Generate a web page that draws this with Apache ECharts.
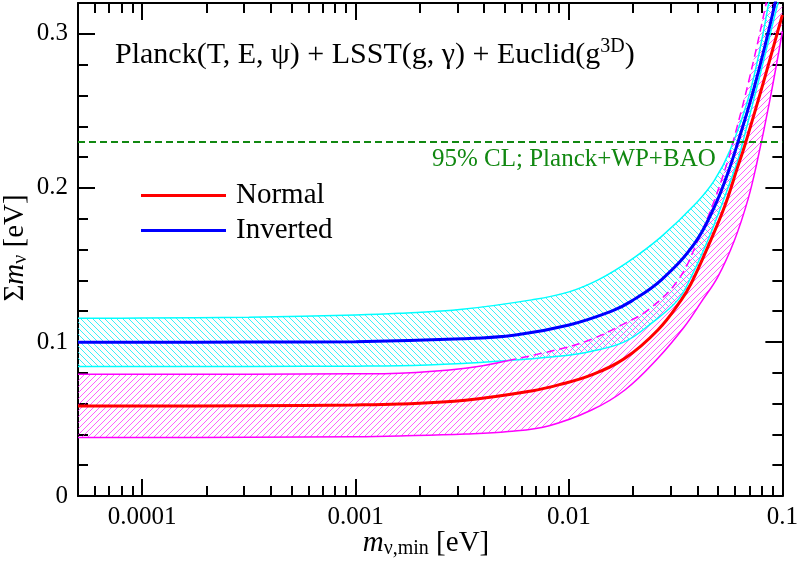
<!DOCTYPE html>
<html>
<head>
<meta charset="utf-8">
<script src="https://cdn.jsdelivr.net/npm/echarts@6/dist/echarts.min.js"></script>
<style>
    html, body { margin: 0; padding: 0; background: #fff; }
    #chart { width: 801px; height: 565px; }
</style>
</head>
<body>
<div id="chart"></div>
<script>
// x: m_nu,min [eV], y: sum m_nu [eV]
var xTickValues = [0.0001, 0.001, 0.01, 0.1];
var xTickLabels = ['0.0001', '0.001', '0.01', '0.1'];
var yTickValues = [0, 0.1, 0.2, 0.3];
var yTickLabels = ['0', '0.1', '0.2', '0.3'];
var planckLimit = 0.23;

// Inverted hierarchy (blue) and its band (cyan)
var inverted = [[0.00005, 0.0998], [0.0001, 0.0998], [0.000316, 0.0999], [0.001, 0.1002], [0.00316, 0.1020], [0.00562, 0.1045], [0.01, 0.1110], [0.01585, 0.1200], [0.01963, 0.1265], [0.0271, 0.1403], [0.0388, 0.1640], [0.0481, 0.1879], [0.0555, 0.2095], [0.0617, 0.2290], [0.0741, 0.2660], [0.0923, 0.3195], [0.1, 0.3450]];
var invertedUpper = [[0.00005, 0.1154], [0.0001, 0.1155], [0.000316, 0.1160], [0.001, 0.1175], [0.0016, 0.1186], [0.00316, 0.1212], [0.00668, 0.1273], [0.01, 0.1325], [0.0137, 0.1403], [0.01892, 0.1520], [0.0271, 0.1684], [0.0394, 0.1900], [0.0481, 0.2050], [0.0569, 0.2245], [0.0708, 0.2630], [0.0861, 0.3195], [0.1, 0.3800]];
var invertedLower = [[0.00005, 0.0840], [0.000316, 0.0841], [0.001, 0.0843], [0.0016, 0.0845], [0.00316, 0.0860], [0.0052, 0.0880], [0.00893, 0.0907], [0.01276, 0.0940], [0.01828, 0.1002], [0.0243, 0.1121], [0.0324, 0.1273], [0.0374, 0.1424], [0.0448, 0.1662], [0.0516, 0.1879], [0.0597, 0.2117], [0.0637, 0.2240], [0.0951, 0.3195], [0.1, 0.3350]];

// Normal hierarchy (red) and its band (magenta)
var normal = [[0.00005, 0.0584], [0.0001, 0.0584], [0.000316, 0.0586], [0.001, 0.0591], [0.0016, 0.0597], [0.00327, 0.0622], [0.00668, 0.0682], [0.00893, 0.0721], [0.01276, 0.0786], [0.01828, 0.0894], [0.0261, 0.1078], [0.0336, 0.1273], [0.0374, 0.1381], [0.0448, 0.1619], [0.0536, 0.1879], [0.0618, 0.2138], [0.0664, 0.2268], [0.0813, 0.2680], [0.1, 0.3123]];
var normalUpper = [[0.00005, 0.0790], [0.0001, 0.0790], [0.000316, 0.0791], [0.001, 0.0793], [0.0016, 0.0797], [0.00327, 0.0829], [0.0052, 0.0880], [0.00893, 0.0952], [0.01276, 0.1017], [0.01828, 0.1121], [0.0235, 0.1208], [0.0324, 0.1400], [0.0403, 0.1662], [0.0481, 0.1922], [0.0555, 0.2175], [0.0575, 0.2250], [0.0692, 0.2680], [0.0838, 0.3195], [0.1, 0.3750]];
var normalLower = [[0.00005, 0.0379], [0.0001, 0.0379], [0.000316, 0.0381], [0.001, 0.0385], [0.0016, 0.0390], [0.00327, 0.0402], [0.0052, 0.0418], [0.0080, 0.0455], [0.01276, 0.0558], [0.01828, 0.0688], [0.0261, 0.0894], [0.0348, 0.1100], [0.0417, 0.1260], [0.0499, 0.1424], [0.0597, 0.1662], [0.0689, 0.1922], [0.0759, 0.2160], [0.0871, 0.2560], [0.1, 0.3015]];
var dashFrom = 0.0052; // upper magenta edge is dashed inside the cyan band

var FONT = '"Liberation Serif", "Times New Roman", serif';
var X_MIN = Math.log10(0.00005);
var X_MAX = Math.log10(0.1);

function lg(pts) {
    return pts.map(function (p) { return [Math.log10(p[0]), p[1]]; });
}

// hatched bands: dir -1 = "\", dir 1 = "/"
var bands = [
    { upper: invertedUpper, lower: invertedLower, color: 'rgba(0,235,245,0.85)', dir: -1 },
    { upper: normalUpper, lower: normalLower, color: 'rgba(255,0,255,0.7)', dir: 1 }
];

var majorX = xTickValues.map(function (v) { return Math.log10(v); });
var minorX = [];
for (var n = -5; n <= -2; n++) {
    for (var k = 2; k <= 9; k++) {
        var v = Math.log10(k * Math.pow(10, n));
        if (v > X_MIN && v < X_MAX) minorX.push(v);
    }
}
var minorY = [];
for (var i = 1; i <= 15; i++) minorY.push(+(i * 0.02).toFixed(2));

function xAx(pos, vals, len, showLine, showLabel) {
    return {
        type: 'value', position: pos, min: X_MIN, max: X_MAX,
        axisLine: { show: showLine, onZero: false, lineStyle: { color: '#000', width: 2 } },
        axisTick: { show: true, inside: true, length: len, customValues: vals, lineStyle: { color: '#000', width: 2 } },
        axisLabel: {
            show: showLabel, customValues: vals, margin: 9,
            fontFamily: FONT, fontSize: 25, color: '#000',
            formatter: function (v) {
                for (var j = 0; j < majorX.length; j++) {
                    if (Math.abs(v - majorX[j]) < 1e-6) return xTickLabels[j];
                }
                return '';
            }
        },
        splitLine: { show: false }
    };
}

function yAx(pos, vals, len, showLine, showLabel) {
    return {
        type: 'value', position: pos, min: 0, max: 0.32,
        axisLine: { show: showLine, onZero: false, lineStyle: { color: '#000', width: 2 } },
        axisTick: { show: true, inside: true, length: len, customValues: vals, lineStyle: { color: '#000', width: 2 } },
        axisLabel: {
            show: showLabel, customValues: vals, margin: 10,
            fontFamily: FONT, fontSize: 25, color: '#000',
            formatter: function (v) {
                var j = yTickValues.indexOf(v);
                return j >= 0 ? yTickLabels[j] : '';
            }
        },
        splitLine: { show: false }
    };
}

function line(name, pts, color, width, dashed, z) {
    return {
        name: name, type: 'line', xAxisIndex: 0, yAxisIndex: 0,
        data: lg(pts), showSymbol: false, symbol: 'none',
        smooth: 0.4, clip: true, silent: true, z: z,
        lineStyle: { color: color, width: width, type: dashed ? [8, 5] : 'solid' },
        itemStyle: { color: color }
    };
}

var myChart = echarts.init(document.getElementById('chart'), null, { renderer: 'canvas' });

var upperSolid = normalUpper.filter(function (p) { return p[0] <= dashFrom; });
var upperDashed = normalUpper.filter(function (p) { return p[0] >= dashFrom; });

var redLine = line('Normal', normal, '#ff0000', 3, false, 5);
redLine.markLine = {
    silent: true, symbol: ['none', 'none'], label: { show: false },
    lineStyle: { color: '#118811', width: 2, type: [7, 4] },
    data: [{ yAxis: planckLimit }]
};

option = {
    animation: false,
    backgroundColor: '#fff',
    grid: { left: 78, right: 17, top: 3, bottom: 69, containLabel: false },
    xAxis: [
        xAx('bottom', majorX, 17, true, true),
        xAx('bottom', minorX, 10, false, false),
        xAx('top', majorX, 17, true, false),
        xAx('top', minorX, 10, false, false)
    ],
    yAxis: [
        yAx('left', yTickValues, 17, true, true),
        yAx('left', minorY, 10, false, false),
        yAx('right', yTickValues, 17, true, false),
        yAx('right', minorY, 10, false, false)
    ],
    legend: {
        data: ['Normal', 'Inverted'],
        orient: 'vertical', left: 136, top: 176,
        icon: 'rect', itemWidth: 85, itemHeight: 3, itemGap: 6,
        selectedMode: false,
        textStyle: { fontFamily: FONT, fontSize: 29, color: '#000', lineHeight: 28, padding: [0, 0, 0, 5] }
    },
    graphic: [{
        type: 'text', left: 115, top: 37,
        style: {
            text: '{a|Planck(T, E, ψ) + LSST(g, γ) + Euclid(g}{s|3D}{a|)}',
            rich: {
                a: { fontFamily: FONT, fontSize: 30, fill: '#000' },
                s: { fontFamily: FONT, fontSize: 20, fill: '#000', padding: [0, 0, 16, 0] }
            }
        }
    }, {
        type: 'text', x: 432, y: 159,
        style: {
            text: '95% CL; Planck+WP+BAO', fill: '#118811',
            font: '25px ' + FONT, textVerticalAlign: 'middle', verticalAlign: 'middle'
        }
    }, {
        type: 'text', x: 15, y: 248, rotation: Math.PI / 2,
        style: {
            text: '{a|Σ}{i|m}{b|ν}{a| [eV]}',
            align: 'center', verticalAlign: 'middle', textAlign: 'center', textVerticalAlign: 'middle',
            rich: {
                a: { fontFamily: FONT, fontSize: 29, fill: '#000' },
                i: { fontFamily: FONT, fontSize: 29, fontStyle: 'italic', fill: '#000' },
                b: { fontFamily: FONT, fontSize: 20, fill: '#000', padding: [12, 0, 0, 0] }
            }
        }
    }, {
        type: 'text', x: 426, y: 543,
        style: {
            text: '{i|m}{b|ν,min}{a| [eV]}',
            align: 'center', verticalAlign: 'middle', textAlign: 'center', textVerticalAlign: 'middle',
            rich: {
                a: { fontFamily: FONT, fontSize: 29, fill: '#000' },
                i: { fontFamily: FONT, fontSize: 29, fontStyle: 'italic', fill: '#000' },
                b: { fontFamily: FONT, fontSize: 20, fill: '#000', padding: [12, 0, 0, 0] }
            }
        }
    }],
    series: [
        {
            name: 'bands', type: 'custom', coordinateSystem: 'cartesian2d',
            xAxisIndex: 0, yAxisIndex: 0, clip: true, silent: true, z: 1,
            data: [[X_MIN, 0], [X_MIN, 0]],
            renderItem: function (params, api) {
                var b = bands[params.dataIndex];
                var pts = lg(b.upper).map(function (p) { return api.coord(p); });
                lg(b.lower).reverse().forEach(function (p) { pts.push(api.coord(p)); });
                var cs = params.coordSys;
                var x0 = cs.x, y0 = cs.y, W = cs.width, H = cs.height;
                var hatchLines = [];
                for (var t = -H; t <= W; t += 6) {
                    hatchLines.push({
                        type: 'line',
                        shape: b.dir < 0
                            ? { x1: x0 + t, y1: y0, x2: x0 + t + H, y2: y0 + H }
                            : { x1: x0 + t, y1: y0 + H, x2: x0 + t + H, y2: y0 },
                        style: { stroke: b.color, lineWidth: 0.9 }
                    });
                }
                return {
                    type: 'group',
                    children: hatchLines,
                    clipPath: { type: 'polygon', shape: { points: pts } }
                };
            }
        },
        line('invUpper', invertedUpper, '#00ffff', 1.5, false, 3),
        line('invLower', invertedLower, '#00ffff', 1.5, false, 3),
        line('normUpper', upperSolid, '#ff00ff', 1.5, false, 3),
        line('normUpperDash', upperDashed, '#ff00ff', 1.5, true, 3),
        line('normLower', normalLower, '#ff00ff', 1.5, false, 3),
        redLine,
        line('Inverted', inverted, '#0000ff', 3, false, 6)
    ]
};

myChart.setOption(option);
window.addEventListener("resize", function () {
    myChart.resize();
});
</script>
</body>
</html>
